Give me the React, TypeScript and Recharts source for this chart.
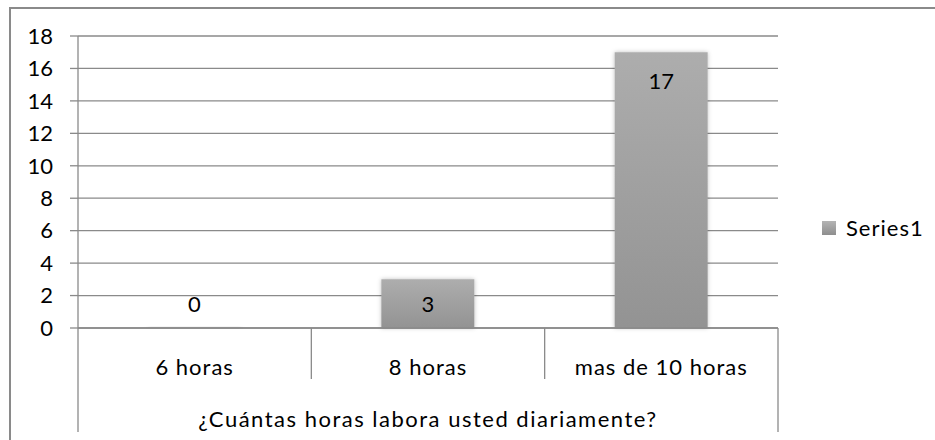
import React from 'react';
import { BarChart, Bar, XAxis, YAxis, CartesianGrid, Legend } from 'recharts';

// data
const categories = ['6 horas', '8 horas', 'mas de 10 horas'];
const series1 = [0, 3, 17];
const yTicks = [0, 2, 4, 6, 8, 10, 12, 14, 16, 18];
const seriesName = 'Series1';
const axisTitle = '¿Cuántas horas labora usted diariamente?';

const data = categories.map((name, i) => ({ name, value: series1[i] }));

const W = 935;
const H = 440;
const PLOT_W = 700;
const lineColor = '#8a8a8a';
const font = 'Lato, "Open Sans", sans-serif';
const fontSize = 22;
const letterSpacing = 1;

const CategoryTick = (props: any) => {
  const { x, y, payload, index, visibleTicksCount } = props;
  const band = PLOT_W / visibleTicksCount;
  const right = x + band / 2;
  const last = index === visibleTicksCount - 1;
  return (
    <g>
      {index === 0 && (
        <line x1={x - band / 2} x2={x - band / 2} y1={y} y2={y + 104} stroke={lineColor} strokeWidth={1.3} />
      )}
      <line x1={right} x2={right} y1={y} y2={last ? y + 104 : y + 51} stroke={lineColor} strokeWidth={1.3} />
      <text
        x={x}
        y={y + 41}
        textAnchor="middle"
        dominantBaseline="middle"
        fill="#000"
        fontSize={fontSize}
        fontFamily={font}
        letterSpacing={letterSpacing}
      >
        {payload.value}
      </text>
    </g>
  );
};

// label sits inside the top of the bar, or just above the axis when the bar is tiny
const renderBarLabel = (props: any) => {
  const { x, y, width, height, value } = props;
  const bottom = y + height;
  const cy = Math.min(y + 31, bottom - 22);
  return (
    <text
      key={`lbl-${x}`}
      x={x + width / 2}
      y={cy}
      textAnchor="middle"
      dominantBaseline="middle"
      fill="#000"
      fontSize={fontSize}
      fontFamily={font}
    >
      {String(value)}
    </text>
  );
};

const LegendBox = () => (
  <div style={{ display: 'flex', alignItems: 'center', fontFamily: font, fontSize, letterSpacing, color: '#000' }}>
    <span
      style={{
        width: 14,
        height: 14,
        marginRight: 10,
        background: 'linear-gradient(#b4b4b4, #8e8e8e)',
        display: 'inline-block',
      }}
    />
    <span>{seriesName}</span>
  </div>
);

export default function App() {
  return (
    <div style={{ position: 'absolute', left: 0, top: 0, width: W, height: H, background: '#fff', overflow: 'hidden' }}>
      <div
        style={{
          position: 'absolute',
          left: 9,
          top: 7,
          width: W,
          height: H,
          borderLeft: `2px solid ${lineColor}`,
          borderTop: `2px solid ${lineColor}`,
        }}
      />
      <BarChart
        width={W}
        height={H}
        data={data}
        margin={{ top: 36, right: 157, left: 0, bottom: 0 }}
        barCategoryGap="30%"
      >
        <defs>
          <linearGradient id="barFill" x1="0" y1="0" x2="0" y2="1">
            <stop offset="0%" stopColor="#adadad" />
            <stop offset="100%" stopColor="#939393" />
          </linearGradient>
          <filter id="barShadow" x="-20%" y="-20%" width="140%" height="140%">
            <feDropShadow dx="0" dy="0" stdDeviation="2" floodColor="#000" floodOpacity="0.25" />
          </filter>
        </defs>
        <CartesianGrid vertical={false} stroke={lineColor} strokeWidth={1.3} />
        <XAxis
          dataKey="name"
          height={112}
          interval={0}
          tickLine={false}
          tickSize={0}
          tickMargin={0}
          axisLine={{ stroke: lineColor, strokeWidth: 1.3 }}
          tick={<CategoryTick />}
          label={{
            value: axisTitle,
            position: 'insideBottom',
            offset: 13,
            fill: '#000',
            fontSize,
            fontFamily: font,
            letterSpacing: 1.5,
          }}
        />
        <YAxis
          width={78}
          domain={[0, 18]}
          ticks={yTicks}
          interval={0}
          tickSize={8}
          tickMargin={17}
          axisLine={{ stroke: lineColor, strokeWidth: 1.3 }}
          tickLine={{ stroke: lineColor, strokeWidth: 1.3 }}
          tick={{ fill: '#000', fontSize, fontFamily: font }}
        />
        <Legend
          layout="horizontal"
          align="center"
          verticalAlign="middle"
          content={<LegendBox />}
          wrapperStyle={{ left: 822, top: 214, width: 113 }}
        />
        <Bar
          dataKey="value"
          name={seriesName}
          fill="url(#barFill)"
          filter="url(#barShadow)"
          minPointSize={1}
          isAnimationActive={false}
          label={renderBarLabel}
        />
      </BarChart>
    </div>
  );
}
